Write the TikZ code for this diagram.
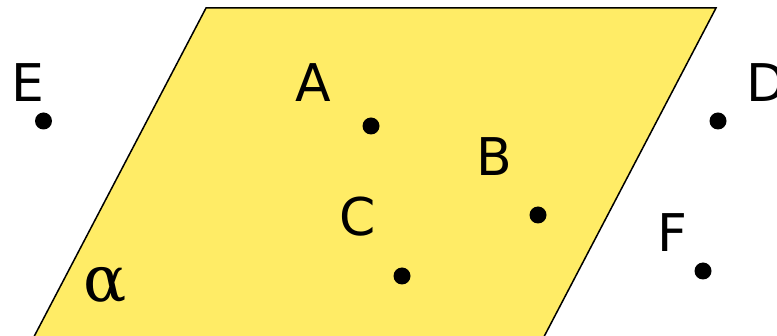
\documentclass[tikz,border=0pt]{standalone}
\usepackage{fontspec}
\setmainfont{DejaVu Sans}
\newfontfamily\greekfont{DejaVu Serif}
\definecolor{planefill}{RGB}{255,236,102}
\begin{document}
\begin{tikzpicture}[x=1pt,y=-1pt,
  pointdot/.style={circle,fill=black,inner sep=0pt,minimum size=17pt},
  ptlabel/.style={anchor=base,inner sep=0pt,font=\fontsize{52}{52}\selectfont}]
\useasboundingbox (0,0) rectangle (777,336);
\clip (0,0) rectangle (777,336);
\draw[fill=planefill,line width=1.5pt,line join=miter] (206,8) -- (716,8) -- (536,352) -- (26,352) -- cycle;
\node[ptlabel] (lE) at (27.5,102) {E};
\node[ptlabel] (lA) at (313,102) {A};
\node[ptlabel,anchor=base west] (lD) at (746,102) {D};
\node[ptlabel] (lB) at (494,176) {B};
\node[ptlabel] (lC) at (358,236) {C};
\node[ptlabel] (lF) at (672,252) {F};
\node[inner sep=0pt,anchor=base] (alpha) at (105,302) {\greekfont\fontsize{64}{64}\selectfont α};
\node[pointdot] (E) at (43.5,121) {};
\node[pointdot] (A) at (371,126) {};
\node[pointdot] (D) at (718,121) {};
\node[pointdot] (B) at (538,215) {};
\node[pointdot] (C) at (402,276) {};
\node[pointdot] (F) at (703,271) {};
\end{tikzpicture}
\end{document}
